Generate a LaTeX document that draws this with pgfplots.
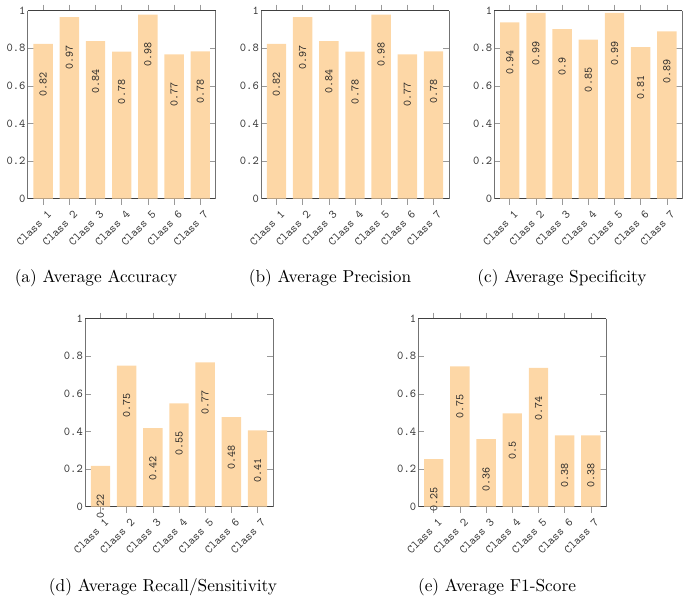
\documentclass[border=0pt]{standalone}
\usepackage{pgfplots}
\pgfplotsset{compat=1.18}
\usepackage{fontspec}
\setmainfont{lmroman10-regular.otf}
\newfontfamily\cf{lmmono10-regular.otf}
\definecolor{barc}{RGB}{253,215,166}
\pgfplotsset{
 mybar/.style={
  scale only axis, width=188bp, height=188bp,
  ybar, bar width=0.74, bar shift=0pt,
  ymin=0, ymax=1, xmin=0.41, xmax=7.59,
  xtick={1,2,3,4,5,6,7},
  xticklabels={Class 1,Class 2,Class 3,Class 4,Class 5,Class 6,Class 7},
  ytick={0,0.2,0.4,0.6,0.8,1},
  /pgf/number format/assume math mode=true,
  xtick align=outside, ytick align=inside,
  major tick length=6bp,
  tick style={black!40, line width=0.6bp},
  separate axis lines,
  x axis line style={black!75, line width=0.8bp},
  y axis line style={black!55, line width=0.8bp},
  xticklabel style={font=\cf\fontsize{12bp}{13bp}\selectfont, rotate=45, anchor=east, inner sep=2bp, yshift=-10bp, xshift=1bp, text=black!80},
  yticklabel style={font=\cf\fontsize{12bp}{13bp}\selectfont, inner sep=2bp, text=black!80},
  nodes near coords,
  every node near coord/.append style={font=\cf\fontsize{11.5bp}{12bp}\selectfont, text=black!85, inner sep=2bp, yshift=-26bp, rotate=90, anchor=east},
 }
}
\begin{document}
\begin{tikzpicture}
\path[use as bounding box] (0,0) rectangle (685bp,-596bp);
% (a) Accuracy
\begin{axis}[mybar, at={(27.7bp,-198.7bp)}, anchor=south west]
\addplot[fill=barc, draw=none] coordinates {(1,0.824) (2,0.966) (3,0.838) (4,0.782) (5,0.979) (6,0.768) (7,0.784)};
\end{axis}
% (b) Precision
\begin{axis}[mybar, at={(261bp,-198.7bp)}, anchor=south west]
\addplot[fill=barc, draw=none] coordinates {(1,0.824) (2,0.966) (3,0.838) (4,0.782) (5,0.979) (6,0.768) (7,0.784)};
\end{axis}
% (c) Specificity
\begin{axis}[mybar, at={(494.3bp,-198.7bp)}, anchor=south west]
\addplot[fill=barc, draw=none] coordinates {(1,0.938) (2,0.988) (3,0.902) (4,0.846) (5,0.988) (6,0.806) (7,0.890)};
\end{axis}
% (d) Recall
\begin{axis}[mybar, at={(85bp,-506.7bp)}, anchor=south west]
\addplot[fill=barc, draw=none] coordinates {(1,0.217) (2,0.751) (3,0.418) (4,0.550) (5,0.768) (6,0.476) (7,0.406)};
\end{axis}
% (e) F1
\begin{axis}[mybar, at={(418.3bp,-506.7bp)}, anchor=south west]
\addplot[fill=barc, draw=none] coordinates {(1,0.253) (2,0.747) (3,0.360) (4,0.496) (5,0.738) (6,0.379) (7,0.379)};
\end{axis}
\node[anchor=base, font=\fontsize{17.3bp}{20bp}\selectfont] at (96bp,-282bp) {(a) Average Accuracy};
\node[anchor=base, font=\fontsize{17.3bp}{20bp}\selectfont] at (330bp,-282bp) {(b) Average Precision};
\node[anchor=base, font=\fontsize{17.3bp}{20bp}\selectfont] at (562bp,-282bp) {(c) Average Specificity};
\node[anchor=base, font=\fontsize{17.3bp}{20bp}\selectfont] at (163bp,-591bp) {(d) Average Recall/Sensitivity};
\node[anchor=base, font=\fontsize{17.3bp}{20bp}\selectfont] at (497bp,-591bp) {(e) Average F1-Score};
\end{tikzpicture}
\end{document}
